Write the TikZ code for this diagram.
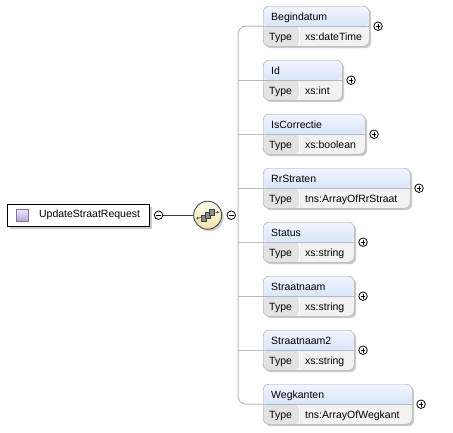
\documentclass[tikz,border=0pt]{standalone}
\usepackage{fontspec}
\setmainfont{Liberation Sans}
\usetikzlibrary{positioning,shadows,calc}
\definecolor{boxline}{HTML}{A4A4A4}
\definecolor{headtop}{HTML}{F2F6FE}
\definecolor{headbot}{HTML}{BED3F4}
\definecolor{headline}{HTML}{B0B8C8}
\definecolor{bodygray}{HTML}{F2F2F2}
\definecolor{typegray}{HTML}{E3E3E3}
\definecolor{treeline}{HTML}{BDBDBD}
\definecolor{seqtop}{HTML}{FFFFF0}
\definecolor{seqbot}{HTML}{EDE3A8}
\definecolor{icontop}{HTML}{EEE8FA}
\definecolor{iconbot}{HTML}{B3A6DA}

\begin{document}
\begin{tikzpicture}[x=1pt,y=-1pt,font=\fontsize{10.5}{12}\selectfont,
	elembox/.style={draw=boxline,rounded corners=6pt,anchor=north west,minimum height=40pt,inner sep=0pt,fill=bodygray,
		drop shadow={shadow xshift=2pt,shadow yshift=-2pt,fill=black!40,opacity=.5},
		path picture={
			\fill[top color=headtop,bottom color=headbot] (path picture bounding box.north west) rectangle (path picture bounding box.east);
			\fill[typegray] (path picture bounding box.west) rectangle ([xshift=36pt]path picture bounding box.south west);
			\draw[white,line width=1pt] ([xshift=36pt]path picture bounding box.west) -- ([xshift=36pt]path picture bounding box.south west);
			\draw[headline] (path picture bounding box.west) -- (path picture bounding box.east);
		}},
	elemtext/.style={anchor=base west,inner sep=0pt,text=black},
	btn/.style={circle,draw=black,fill=white,line width=.8pt,minimum size=8.5pt,inner sep=0pt},
	plusbtn/.style={btn,path picture={
			\draw[line width=.8pt] ([xshift=-2.3pt]path picture bounding box.center) -- ([xshift=2.3pt]path picture bounding box.center);
			\draw[line width=.8pt] ([yshift=-2.3pt]path picture bounding box.center) -- ([yshift=2.3pt]path picture bounding box.center);}},
	minusbtn/.style={btn,path picture={
			\draw[line width=.8pt] ([xshift=-2.3pt]path picture bounding box.center) -- ([xshift=2.3pt]path picture bounding box.center);}},
	rootbox/.style={draw=black,fill=white,anchor=north west,minimum width=142pt,minimum height=22pt,inner sep=0pt,
		drop shadow={shadow xshift=2.5pt,shadow yshift=-2.5pt,fill=black!40,opacity=.5}},
	rooticon/.style={draw=iconbot!70!black,top color=icontop,bottom color=iconbot,minimum size=11.5pt,inner sep=0pt},
	seqnode/.style={circle,draw=black!70,line width=.9pt,top color=seqtop,bottom color=seqbot,minimum size=28pt,inner sep=0pt,
		drop shadow={shadow xshift=2pt,shadow yshift=-2pt,fill=black!40,opacity=.5}},
	seqsq/.style={draw=black!75,fill=black!45,minimum size=5.5pt,inner sep=0pt}]

	\useasboundingbox[fill=white] (0,0) rectangle (453,432);

	% root element
	\node[rootbox] (root) at (7,204) {};
	\node[rooticon,right=9pt of root.west] (rooticon) {};
	\node[elemtext,anchor=west,right=11pt of rooticon] (rootname) {UpdateStraatRequest};
	\node[minusbtn,right=4.5pt of root] (rootmin) {};

	% sequence compositor
	\node[seqnode,right=30pt of rootmin] (seq) {};
	\draw[black!55,line width=.7pt] ([xshift=-10pt,yshift=-3pt]seq.center) coordinate (seql) -- ([xshift=10pt,yshift=3pt]seq.center) coordinate (seqr);
	\fill[black!70] (seql) circle (1.3pt) (seqr) circle (1.3pt);
	\node[seqsq] (sq1) at ([xshift=-4pt,yshift=-3pt]seq.center) {};
	\node[seqsq] (sq2) at (seq.center) {};
	\node[seqsq] (sq3) at ([xshift=4pt,yshift=3pt]seq.center) {};
	\node[minusbtn,right=4.5pt of seq] (seqmin) {};
	\draw[black!75,line width=1.3pt] (rootmin) -- (seq);

	\coordinate (spine) at (238,215);

	% child elements
	\foreach \elname/\eltype/\rx [count=\i] in {Begindatum/xs:dateTime/369,Id/xs:int/342,IsCorrectie/xs:boolean/365,
		RrStraten/tns:ArrayOfRrStraat/410,Status/xs:string/354,Straatnaam/xs:string/354,
		Straatnaam2/xs:string/354,Wegkanten/tns:ArrayOfWegkant/412}{
		\pgfmathsetmacro\ty{6+54*(\i-1)}
		\pgfmathsetmacro\w{\rx-263}
		\node[elembox,minimum width=\w pt] (e\i) at (263,\ty) {};
		\node[elemtext] (e\i-name) at ([shift={(8,14.5)}]e\i.north west) {\elname};
		\node[elemtext] (e\i-type) at ([shift={(6,34.5)}]e\i.north west) {Type};
		\node[elemtext] (e\i-val) at ([shift={(42,34.5)}]e\i.north west) {\eltype};
		\node[plusbtn,right=4pt of e\i] (p\i) {};
	}

	% tree lines
	\draw[treeline,line width=1pt,rounded corners=8pt] (e1.west) -- (e1.west -| spine) -- (e8.west -| spine) -- (e8.west);
	\foreach \i in {2,...,7}
		\draw[treeline,line width=1pt] (e\i.west -| spine) -- (e\i.west);
\end{tikzpicture}
\end{document}
